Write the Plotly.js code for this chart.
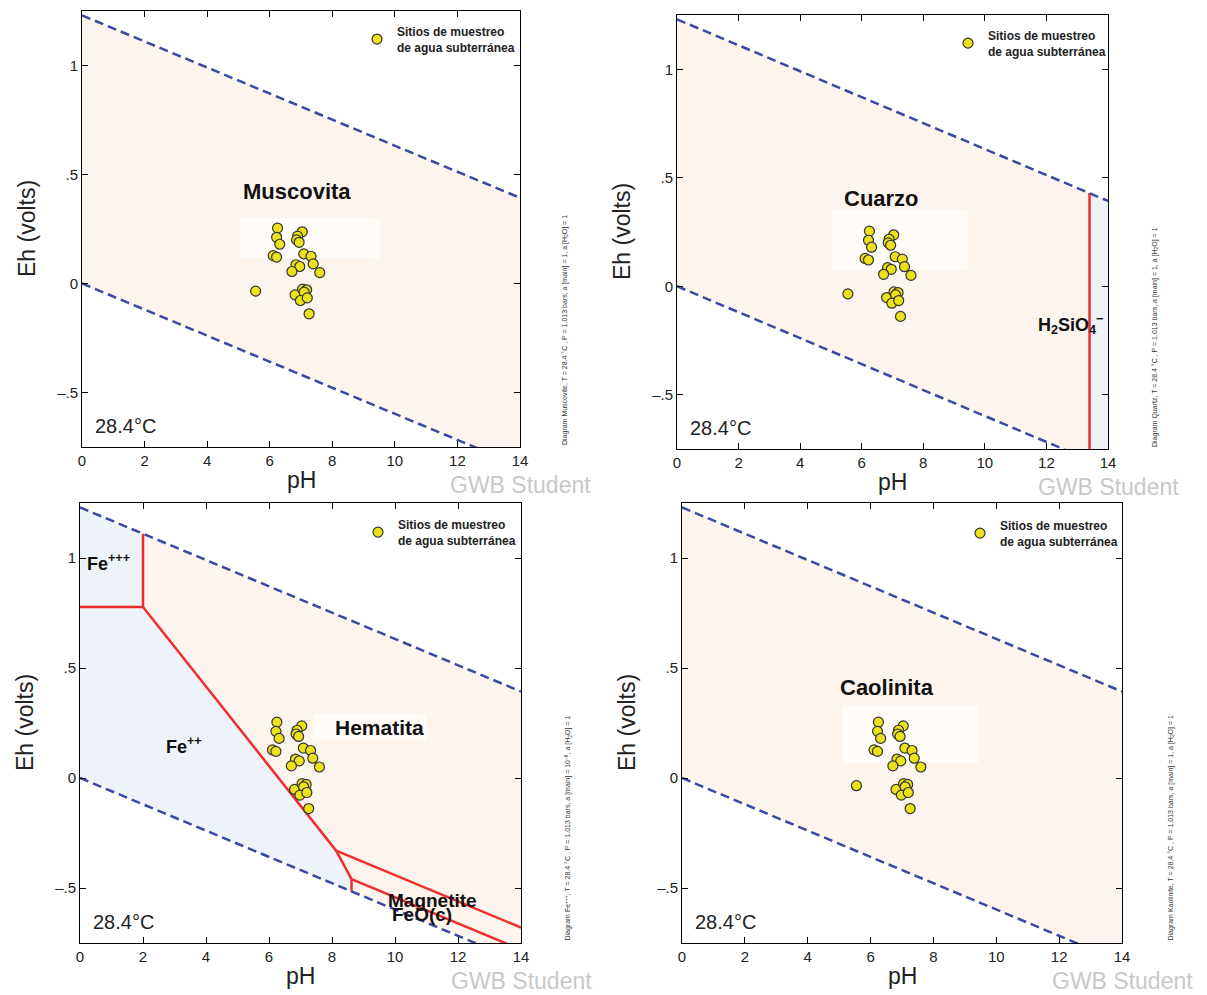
<!DOCTYPE html>
<html><head><meta charset="utf-8">
<script src="https://cdn.plot.ly/plotly-3.0.1.min.js"></script>
<style>html,body{margin:0;padding:0;background:#fff}#chart{width:1207px;height:995px}</style>
</head><body><div id="chart"></div>
<script>
// ---- sample data (groundwater sites) ----
const samplePH = [6.25,6.22,6.32,7.04,6.89,6.86,6.94,6.11,6.22,7.09,7.32,7.39,6.84,6.96,6.71,7.60,5.55,6.81,7.05,7.18,7.10,6.98,7.20,7.26];
const sampleEh = [0.254,0.212,0.180,0.237,0.217,0.200,0.189,0.128,0.121,0.136,0.125,0.090,0.086,0.078,0.055,0.050,-0.035,-0.052,-0.026,-0.029,-0.040,-0.078,-0.066,-0.139];
// Fe panel shows the same sites without the low-pH one
const fePanelPH = [6.25,6.22,6.32,7.04,6.89,6.86,6.94,6.11,6.22,7.09,7.32,7.39,6.84,6.96,6.71,7.60,6.81,7.05,7.18,7.10,6.98,7.20,7.26];
const fePanelEh = [0.254,0.212,0.180,0.237,0.217,0.200,0.189,0.128,0.121,0.136,0.125,0.090,0.086,0.078,0.055,0.050,-0.052,-0.026,-0.029,-0.040,-0.078,-0.066,-0.139];

// ---- water stability limits ----
const o2PH = [0, 14];  const o2Eh = [1.23, 0.393];
const h2PH = [0, 14];  const h2Eh = [0.0, -0.837];

// ---- quartz / H2SiO4- boundary ----
const qzPH = [13.4, 13.4]; const qzEh = [-0.80, 0.43];

// ---- Fe diagram boundaries ----
const fe3fe2PH = [0, 2];        const fe3fe2Eh = [0.777, 0.777];
const fe3hemPH = [2, 2];        const fe3hemEh = [0.777, 1.11];
const fe2hemPH = [2, 8.13];     const fe2hemEh = [0.777, -0.33];
const fe2magPH = [8.13, 8.62];  const fe2magEh = [-0.33, -0.46];
const fe2feoPH = [8.62, 8.62];  const fe2feoEh = [-0.46, -0.517];
const hemmagPH = [8.13, 14];    const hemmagEh = [-0.33, -0.68];
const magfeoPH = [8.62, 14];    const magfeoEh = [-0.46, -0.78];

// ---- tick labels ----
const xTicks = [0,2,4,6,8,10,12,14];
const yTickVals = [-0.5, 0, 0.5, 1];
const yTickText = ['\u2013.5', '0', '.5', '1'];

// ---- panel text ----
const panelNames = ['Muscovita', 'Cuarzo', 'Hematita', 'Caolinita'];
const diagramNotes = [
  'Diagram Muscovite, T = 28.4 \u00b0C , P = 1.013 bars, a [main] = 1, a [H<sub>2</sub>O] = 1',
  'Diagram Quartz, T = 28.4 \u00b0C , P = 1.013 bars, a [main] = 1, a [H<sub>2</sub>O] = 1',
  'Diagram Fe<sup>+++</sup>, T = 28.4 \u00b0C , P = 1.013 bars, a [main] = 10<sup>\u22126</sup>, a [H<sub>2</sub>O] = 1',
  'Diagram Kaolinite, T = 28.4 \u00b0C , P = 1.013 bars, a [main] = 1, a [H<sub>2</sub>O] = 1'
];
const legendName = '<b>Sitios de muestreo<br>de agua subterránea</b>';

const W = 1207, H = 995;
const px = x => x / W, py = y => 1 - y / H;
const FONT = 'Liberation Sans, Arial, sans-serif';
const PEACH = '#fdf4ee', BLUE = '#eef2f9', BOX = '#fffbf9', DASH = '#3a49a3', RED = '#ee2e2e';

// pixel frames of each panel: [left, right, top, bottom]
const frames = [[82,520,11,447],[677,1108,15,449],[80,521,503,943],[682,1122,503,943]];

const traces = [];
function ax(i){ return i===0 ? ['x','y'] : ['x'+(i+1),'y'+(i+1)]; }
function poly(i, xs, ys, color){
  const [xa,ya]=ax(i);
  traces.push({x:xs, y:ys, xaxis:xa, yaxis:ya, type:'scatter', mode:'lines', fill:'toself',
    fillcolor:color, line:{width:0, color:color}, hoverinfo:'skip', showlegend:false});
}
function line(i, xs, ys, color, dash){
  const [xa,ya]=ax(i);
  traces.push({x:xs, y:ys, xaxis:xa, yaxis:ya, type:'scatter', mode:'lines',
    line:{width:2.5, color:color, dash:dash||'solid'}, hoverinfo:'skip', showlegend:false});
}
const stabX = [o2PH[0], o2PH[1], h2PH[1], h2PH[0]];
const stabY = [o2Eh[0], o2Eh[1], h2Eh[1], h2Eh[0]];

const whiteBoxes = [[5.05,9.52,0.115,0.30],[5.03,9.45,0.074,0.35],[7.4,11.0,0.17,0.29],[5.12,9.42,0.068,0.33]];

for (let i=0;i<4;i++){
  poly(i, stabX, stabY, PEACH);
  if (i===1){
    poly(i, [qzPH[0], o2PH[1], h2PH[1], qzPH[0]], [qzEh[1], o2Eh[1], h2Eh[1], qzEh[0]], BLUE);
  }
  if (i===2){
    poly(i, [fe3fe2PH[0], fe3fe2PH[1], fe3hemPH[1], o2PH[0]], [fe3fe2Eh[0], fe3fe2Eh[1], fe3hemEh[1], o2Eh[0]], BLUE);
    poly(i, [h2PH[0], fe3fe2PH[0], fe3fe2PH[1], fe2hemPH[1], fe2magPH[1], fe2feoPH[1]],
            [h2Eh[0], fe3fe2Eh[0], fe3fe2Eh[1], fe2hemEh[1], fe2magEh[1], fe2feoEh[1]], BLUE);
  }
  const wb = whiteBoxes[i];
  poly(i, [wb[0],wb[1],wb[1],wb[0]], [wb[2],wb[2],wb[3],wb[3]], BOX);
  if (i===1) line(i, qzPH, qzEh, RED);
  if (i===2){
    line(i, fe3fe2PH, fe3fe2Eh, RED); line(i, fe3hemPH, fe3hemEh, RED);
    line(i, fe2hemPH, fe2hemEh, RED); line(i, fe2magPH, fe2magEh, RED);
    line(i, fe2feoPH, fe2feoEh, RED); line(i, hemmagPH, hemmagEh, RED);
    line(i, magfeoPH, magfeoEh, RED);
  }
  line(i, o2PH, o2Eh, DASH, '9px,5px');
  line(i, h2PH, h2Eh, DASH, '9px,5px');
  const [xa,ya]=ax(i);
  traces.push({x: i===2 ? fePanelPH : samplePH, y: i===2 ? fePanelEh : sampleEh, xaxis:xa, yaxis:ya, type:'scatter', mode:'markers',
    name:legendName, legend: i===0?'legend':'legend'+(i+1), showlegend:true,
    marker:{size:10, color:'#ebe21b', line:{color:'#333', width:1.2}}, hoverinfo:'x+y'});
}

const layout = {width:W, height:H, margin:{l:0,r:0,t:0,b:0}, paper_bgcolor:'#fff', plot_bgcolor:'#fff',
  font:{family:FONT, color:'#222'}, annotations:[], showlegend:true};

const legendPos = [[357,17],[948,21],[358,510],[960,511]];
const notesX = [565, 1155, 568, 1170];
frames.forEach((f,i)=>{
  const n = i===0?'':(i+1);
  layout['xaxis'+n] = {domain:[px(f[0]), px(f[1])], anchor:'y'+n, range:[0,14], tickvals:xTicks,
    showline:true, linecolor:'#000', linewidth:1, mirror:'ticks', ticks:'inside', ticklen:6, tickcolor:'#000',
    showgrid:false, zeroline:false, tickfont:{size:15, family:FONT, color:'#222'}};
  layout['yaxis'+n] = {domain:[py(f[3]), py(f[2])], anchor:'x'+n, range:[-0.75,1.25], tickvals:yTickVals, ticktext:yTickText,
    showline:true, linecolor:'#000', linewidth:1, mirror:'ticks', ticks:'inside', ticklen:6, tickcolor:'#000',
    showgrid:false, zeroline:false, tickfont:{size:15, family:FONT, color:'#222'}};
  const lp = legendPos[i];
  layout['legend'+n] = {x:px(lp[0]), y:py(lp[1]), xanchor:'left', yanchor:'top', bgcolor:'rgba(0,0,0,0)',
    font:{size:12, family:FONT, color:'#222'}, itemwidth:30, tracegroupgap:0};
  const xr = 'x'+n, yr = 'y'+n;
  layout.annotations.push({xref:'paper', yref:'paper', x:px((f[0]+f[1])/2), y:py(f[3]+33), text:'pH', showarrow:false,
    font:{size:23, family:FONT, color:'#222'}, xanchor:'center', yanchor:'middle'});
  layout.annotations.push({xref:'paper', yref:'paper', x:px(f[0]-55), y:py((f[2]+f[3])/2), text:'Eh (volts)', showarrow:false,
    textangle:-90, font:{size:23, family:FONT, color:'#222'}, xanchor:'center', yanchor:'middle'});
  layout.annotations.push({xref:'paper', yref:'paper', x:px(f[1]), y:py(f[3]+38), text:'GWB Student', showarrow:false,
    font:{size:23, family:FONT, color:'#c8c8c8'}, xanchor:'center', yanchor:'middle'});
  layout.annotations.push({xref:xr, yref:yr, x:0.36, y:-0.655, text:'28.4\u00b0C', showarrow:false,
    font:{size:20, family:FONT, color:'#222'}, xanchor:'left', yanchor:'middle'});
  layout.annotations.push({xref:'paper', yref:'paper', x:px(notesX[i]), y:py(f[3]), text:diagramNotes[i], showarrow:false,
    textangle:-90, font:{size:7, family:FONT, color:'#333'}, xanchor:'center', yanchor:'bottom'});
});
const lbl = (n, x, y, t, s) => layout.annotations.push({xref:'x'+n, yref:'y'+n, x:x, y:y, text:t, showarrow:false,
  font:{size:s, family:FONT, color:'#111'}, xanchor:'center', yanchor:'middle'});
lbl('', 6.87, 0.42, '<b>'+panelNames[0]+'</b>', 22);
lbl('2', 6.63, 0.405, '<b>'+panelNames[1]+'</b>', 22);
lbl('3', 9.5, 0.23, '<b>'+panelNames[2]+'</b>', 21);
lbl('4', 6.52, 0.41, '<b>'+panelNames[3]+'</b>', 22);
lbl('2', 12.78, -0.175, '<b>H<sub>2</sub>SiO<sub>4</sub><sup>\u2212</sup></b>', 18);
lbl('3', 0.9, 0.98, '<b>Fe<sup>+++</sup></b>', 18);
lbl('3', 3.3, 0.15, '<b>Fe<sup>++</sup></b>', 18);
lbl('3', 11.2, -0.555, '<b>Magnetite</b>', 19);
lbl('3', 10.85, -0.62, '<b>FeO(c)</b>', 19);

Plotly.newPlot('chart', traces, layout, {staticPlot:true});
</script></body></html>
